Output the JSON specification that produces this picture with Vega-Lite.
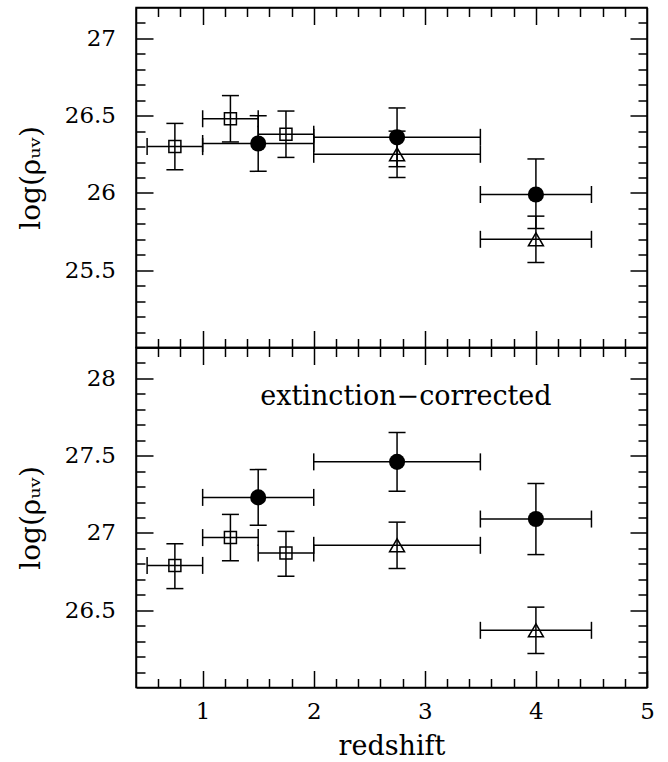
{
  "$schema": "https://vega.github.io/schema/vega-lite/v6.json",
  "background": "white",
  "padding": {"left": 16, "top": 5.5, "right": 0, "bottom": 0},
  "bounds": "flush",
  "spacing": 0,
  "config": {
    "view": {"stroke": "black", "strokeWidth": 1.5},
    "axis": {
      "domainColor": "black", "domainWidth": 1.5,
      "tickColor": "black", "tickWidth": 1.5,
      "labelFont": "DejaVu Serif", "labelFontSize": 23, "labelColor": "black",
      "titleFont": "DejaVu Serif", "titleFontSize": 28, "titleFontWeight": "normal", "titleColor": "black",
      "grid": false, "labelOverlap": false, "labelFlush": false
    }
  },
  "datasets": {
    "top": [
      {"type": "square", "z": 0.75, "zlo": 0.5, "zhi": 1.0, "v": 26.30, "vlo": 26.15, "vhi": 26.45},
      {"type": "square", "z": 1.25, "zlo": 1.0, "zhi": 1.5, "v": 26.48, "vlo": 26.33, "vhi": 26.63},
      {"type": "square", "z": 1.75, "zlo": 1.5, "zhi": 2.0, "v": 26.38, "vlo": 26.23, "vhi": 26.53},
      {"type": "circle", "z": 1.5, "zlo": 1.0, "zhi": 2.0, "v": 26.32, "vlo": 26.14, "vhi": 26.50},
      {"type": "circle", "z": 2.75, "zlo": 2.0, "zhi": 3.5, "v": 26.36, "vlo": 26.17, "vhi": 26.55},
      {"type": "triangle", "z": 2.75, "zlo": 2.0, "zhi": 3.5, "v": 26.25, "vlo": 26.10, "vhi": 26.40},
      {"type": "circle", "z": 4.0, "zlo": 3.5, "zhi": 4.5, "v": 25.99, "vlo": 25.77, "vhi": 26.22},
      {"type": "triangle", "z": 4.0, "zlo": 3.5, "zhi": 4.5, "v": 25.70, "vlo": 25.55, "vhi": 25.85}
    ],
    "bottom": [
      {"type": "square", "z": 0.75, "zlo": 0.5, "zhi": 1.0, "v": 26.79, "vlo": 26.64, "vhi": 26.93},
      {"type": "square", "z": 1.25, "zlo": 1.0, "zhi": 1.5, "v": 26.97, "vlo": 26.82, "vhi": 27.12},
      {"type": "square", "z": 1.75, "zlo": 1.5, "zhi": 2.0, "v": 26.87, "vlo": 26.72, "vhi": 27.01},
      {"type": "circle", "z": 1.5, "zlo": 1.0, "zhi": 2.0, "v": 27.23, "vlo": 27.05, "vhi": 27.41},
      {"type": "circle", "z": 2.75, "zlo": 2.0, "zhi": 3.5, "v": 27.46, "vlo": 27.27, "vhi": 27.65},
      {"type": "triangle", "z": 2.75, "zlo": 2.0, "zhi": 3.5, "v": 26.92, "vlo": 26.77, "vhi": 27.07},
      {"type": "circle", "z": 4.0, "zlo": 3.5, "zhi": 4.5, "v": 27.09, "vlo": 26.86, "vhi": 27.32},
      {"type": "triangle", "z": 4.0, "zlo": 3.5, "zhi": 4.5, "v": 26.37, "vlo": 26.22, "vhi": 26.52}
    ],
    "note": [
      {"label": "extinction−corrected", "z": 2.83, "v": 27.88}
    ]
  },
  "vconcat": [
    {
      "width": 511, "height": 340,
      "data": {"name": "top"},
      "resolve": {"axis": {"x": "independent", "y": "independent"}},
      "layer": [
        {
          "mark": {"type": "errorbar", "ticks": {"size": 17, "thickness": 1.5, "opacity": 1, "color": "black"}, "rule": {"strokeWidth": 1.5, "color": "black", "opacity": 1}, "color": "black"},
          "encoding": {
            "x": {"field": "zlo", "type": "quantitative",
                  "scale": {"domain": [0.4, 5], "nice": false, "zero": false},
                  "axis": {"orient": "bottom", "title": null, "labels": false,
                           "values": [0.6,0.8,1,1.2,1.4,1.6,1.8,2,2.2,2.4,2.6,2.8,3,3.2,3.4,3.6,3.8,4,4.2,4.4,4.6,4.8],
                           "tickSize": {"condition": {"test": "datum.value % 1 === 0", "value": -17}, "value": -9}}},
            "x2": {"field": "zhi"},
            "y": {"field": "v", "type": "quantitative",
                  "scale": {"domain": [25, 27.2], "nice": false, "zero": false},
                  "axis": {"orient": "left", "title": "log(ρᵤᵥ)", "titlePadding": 19, "labelPadding": 37.5,
                           "values": [25.1,25.2,25.3,25.4,25.5,25.6,25.7,25.8,25.9,26,26.1,26.2,26.3,26.4,26.5,26.6,26.7,26.8,26.9,27,27.1],
                           "labelExpr": "datum.value % 0.5 === 0 ? datum.value + '' : ''",
                           "tickSize": {"condition": {"test": "datum.value % 0.5 === 0", "value": -17}, "value": -9}}}
          }
        },
        {
          "mark": {"type": "errorbar", "ticks": {"size": 17, "thickness": 1.5, "opacity": 1, "color": "black"}, "rule": {"strokeWidth": 1.5, "color": "black", "opacity": 1}, "color": "black"},
          "encoding": {
            "x": {"field": "z", "type": "quantitative",
                  "axis": {"orient": "top", "title": null, "labels": false,
                           "values": [0.6,0.8,1,1.2,1.4,1.6,1.8,2,2.2,2.4,2.6,2.8,3,3.2,3.4,3.6,3.8,4,4.2,4.4,4.6,4.8],
                           "tickSize": {"condition": {"test": "datum.value % 1 === 0", "value": -17}, "value": -9}}},
            "y": {"field": "vlo", "type": "quantitative",
                  "axis": {"orient": "right", "title": null, "labels": false,
                           "values": [25.1,25.2,25.3,25.4,25.5,25.6,25.7,25.8,25.9,26,26.1,26.2,26.3,26.4,26.5,26.6,26.7,26.8,26.9,27,27.1],
                           "tickSize": {"condition": {"test": "datum.value % 0.5 === 0", "value": -17}, "value": -9}}},
            "y2": {"field": "vhi"}
          }
        },
        {
          "transform": [{"filter": "datum.type === 'circle'"}],
          "mark": {"type": "point", "shape": "circle", "filled": true, "color": "black", "size": 260, "opacity": 1},
          "encoding": {
            "x": {"field": "z", "type": "quantitative", "axis": null},
            "y": {"field": "v", "type": "quantitative", "axis": null}
          }
        },
        {
          "transform": [{"filter": "datum.type !== 'circle'"}],
          "mark": {"type": "point", "filled": false, "color": "black", "strokeWidth": 1.5, "opacity": 1},
          "encoding": {
            "x": {"field": "z", "type": "quantitative", "axis": null},
            "y": {"field": "v", "type": "quantitative", "axis": null},
            "shape": {"field": "type", "type": "nominal", "scale": {"domain": ["square", "triangle"], "range": ["square", "triangle-up"]}, "legend": null},
            "size": {"field": "type", "type": "ordinal", "scale": {"domain": ["square", "triangle"], "range": [144, 225]}, "legend": null}
          }
        }
      ]
    },
    {
      "width": 511, "height": 340,
      "data": {"name": "bottom"},
      "resolve": {"axis": {"x": "independent", "y": "independent"}},
      "layer": [
        {
          "mark": {"type": "errorbar", "ticks": {"size": 17, "thickness": 1.5, "opacity": 1, "color": "black"}, "rule": {"strokeWidth": 1.5, "color": "black", "opacity": 1}, "color": "black"},
          "encoding": {
            "x": {"field": "zlo", "type": "quantitative",
                  "scale": {"domain": [0.4, 5], "nice": false, "zero": false},
                  "axis": {"orient": "bottom", "title": "redshift", "titleFontSize": 27, "titlePadding": 2, "labelPadding": 30,
                           "values": [0.6,0.8,1,1.2,1.4,1.6,1.8,2,2.2,2.4,2.6,2.8,3,3.2,3.4,3.6,3.8,4,4.2,4.4,4.6,4.8,5],
                           "labelExpr": "datum.value % 1 === 0 ? datum.value + '' : ''",
                           "tickSize": {"condition": {"test": "datum.value % 1 === 0", "value": -17}, "value": -9}}},
            "x2": {"field": "zhi"},
            "y": {"field": "v", "type": "quantitative",
                  "scale": {"domain": [26, 28.2], "nice": false, "zero": false},
                  "axis": {"orient": "left", "title": "log(ρᵤᵥ)", "titlePadding": 19, "labelPadding": 37.5,
                           "values": [26.1,26.2,26.3,26.4,26.5,26.6,26.7,26.8,26.9,27,27.1,27.2,27.3,27.4,27.5,27.6,27.7,27.8,27.9,28,28.1],
                           "labelExpr": "datum.value % 0.5 === 0 ? datum.value + '' : ''",
                           "tickSize": {"condition": {"test": "datum.value % 0.5 === 0", "value": -17}, "value": -9}}}
          }
        },
        {
          "mark": {"type": "errorbar", "ticks": {"size": 17, "thickness": 1.5, "opacity": 1, "color": "black"}, "rule": {"strokeWidth": 1.5, "color": "black", "opacity": 1}, "color": "black"},
          "encoding": {
            "x": {"field": "z", "type": "quantitative",
                  "axis": {"orient": "top", "title": null, "labels": false,
                           "values": [0.6,0.8,1,1.2,1.4,1.6,1.8,2,2.2,2.4,2.6,2.8,3,3.2,3.4,3.6,3.8,4,4.2,4.4,4.6,4.8],
                           "tickSize": {"condition": {"test": "datum.value % 1 === 0", "value": -17}, "value": -9}}},
            "y": {"field": "vlo", "type": "quantitative",
                  "axis": {"orient": "right", "title": null, "labels": false,
                           "values": [26.1,26.2,26.3,26.4,26.5,26.6,26.7,26.8,26.9,27,27.1,27.2,27.3,27.4,27.5,27.6,27.7,27.8,27.9,28,28.1],
                           "tickSize": {"condition": {"test": "datum.value % 0.5 === 0", "value": -17}, "value": -9}}},
            "y2": {"field": "vhi"}
          }
        },
        {
          "transform": [{"filter": "datum.type === 'circle'"}],
          "mark": {"type": "point", "shape": "circle", "filled": true, "color": "black", "size": 260, "opacity": 1},
          "encoding": {
            "x": {"field": "z", "type": "quantitative", "axis": null},
            "y": {"field": "v", "type": "quantitative", "axis": null}
          }
        },
        {
          "transform": [{"filter": "datum.type !== 'circle'"}],
          "mark": {"type": "point", "filled": false, "color": "black", "strokeWidth": 1.5, "opacity": 1},
          "encoding": {
            "x": {"field": "z", "type": "quantitative", "axis": null},
            "y": {"field": "v", "type": "quantitative", "axis": null},
            "shape": {"field": "type", "type": "nominal", "scale": {"domain": ["square", "triangle"], "range": ["square", "triangle-up"]}, "legend": null},
            "size": {"field": "type", "type": "ordinal", "scale": {"domain": ["square", "triangle"], "range": [144, 225]}, "legend": null}
          }
        },
        {
          "data": {"name": "note"},
          "mark": {"type": "text", "font": "DejaVu Serif", "fontSize": 27, "color": "black", "align": "center", "baseline": "middle"},
          "encoding": {
            "x": {"field": "z", "type": "quantitative", "axis": null},
            "y": {"field": "v", "type": "quantitative", "axis": null},
            "text": {"field": "label"}
          }
        }
      ]
    }
  ]
}
